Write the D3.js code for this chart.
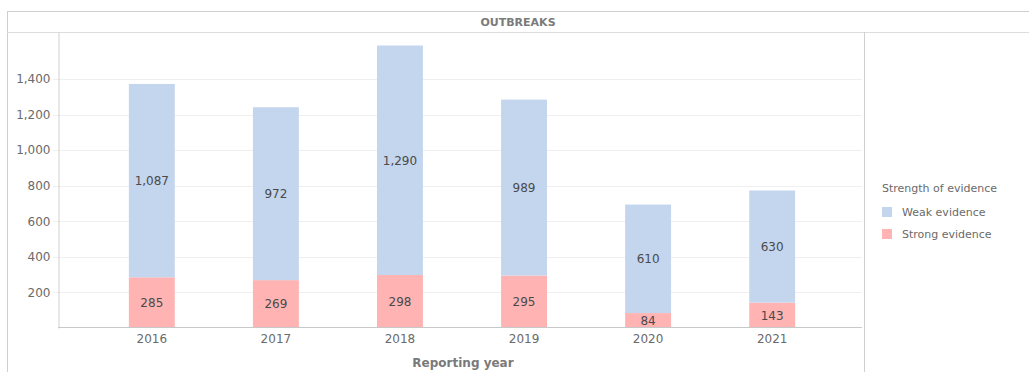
<!DOCTYPE html>
<html>
<head>
<meta charset="utf-8">
<script src="https://cdn.jsdelivr.net/npm/d3@7"></script>
<style>
  html, body { margin: 0; padding: 0; background: #fff; }
  svg { display: block; font-family: "DejaVu Sans", Verdana, sans-serif; }
</style>
</head>
<body>
<svg id="chart" width="1029" height="372"></svg>
<script>
// Outbreaks per reporting year, split by strength of evidence
const years = ["2016", "2017", "2018", "2019", "2020", "2021"];
const strongEvidence = [285, 269, 298, 295, 84, 143];
const weakEvidence = [1087, 972, 1290, 989, 610, 630];
const yTicks = [200, 400, 600, 800, 1000, 1200, 1400];
const seriesNames = ["Weak evidence", "Strong evidence"];
const seriesColors = ["#c4d5ee", "#ffb3b3"];

const svg = d3.select("#chart");
const fmt = d3.format(",");

// frame
const frame = { left: 7, top: 11, right: 1029, titleBottom: 32, split: 864 };
const lineCol = "#cfcfcf";
svg.append("line").attr("x1", frame.left + 0.5).attr("x2", frame.left + 0.5)
  .attr("y1", frame.top).attr("y2", 372).attr("stroke", lineCol);
svg.append("line").attr("x1", frame.left).attr("x2", frame.right)
  .attr("y1", frame.top + 0.5).attr("y2", frame.top + 0.5).attr("stroke", lineCol);
svg.append("line").attr("x1", frame.left).attr("x2", frame.right)
  .attr("y1", frame.titleBottom + 0.5).attr("y2", frame.titleBottom + 0.5).attr("stroke", "#dddddd");
svg.append("line").attr("x1", frame.split + 0.5).attr("x2", frame.split + 0.5)
  .attr("y1", frame.titleBottom).attr("y2", 372).attr("stroke", lineCol);

svg.append("text").attr("x", 518).attr("y", 26).attr("text-anchor", "middle")
  .attr("font-size", 11).attr("font-weight", "bold").attr("fill", "#7a7a7a")
  .text("OUTBREAKS");

// plot area
const plot = { left: 58, right: 862, top: 32, bottom: 328 };

const x = d3.scaleBand().domain(years).range([plot.left + 2, plot.right + 2])
  .paddingInner(0.63).paddingOuter(0.555);
const y = d3.scaleLinear().domain([0, 1664]).range([plot.bottom, plot.top]);

// gridlines
svg.append("g").selectAll("line").data(yTicks).join("line")
  .attr("x1", plot.left - 5).attr("x2", plot.right)
  .attr("y1", d => Math.round(y(d)) + 0.5).attr("y2", d => Math.round(y(d)) + 0.5)
  .attr("stroke", "#efefef");

// y axis
const yAxis = svg.append("g").attr("transform", `translate(${plot.left + 0.5},0)`)
  .call(d3.axisLeft(y).tickValues(yTicks).tickFormat(fmt).tickSize(0).tickPadding(8));
yAxis.select(".domain").attr("stroke", "#d0d0d0");
yAxis.selectAll("text").attr("font-size", 12).attr("fill", "#6a6a6a")
  .attr("font-family", "DejaVu Sans, Verdana, sans-serif");

// stacked bars
const stackData = years.map((yr, i) => ({ year: yr, strong: strongEvidence[i], weak: weakEvidence[i] }));
const stacked = d3.stack().keys(["strong", "weak"])(stackData);
const colorOf = { strong: seriesColors[1], weak: seriesColors[0] };

const layers = svg.append("g").selectAll("g").data(stacked).join("g")
  .attr("fill", d => colorOf[d.key]);
layers.selectAll("rect").data(d => d).join("rect")
  .attr("x", d => x(d.data.year))
  .attr("width", x.bandwidth())
  .attr("y", d => y(d[1]))
  .attr("height", d => y(d[0]) - y(d[1]));

// value labels
const labels = svg.append("g").attr("font-size", 12).attr("fill", "#4a4a4a")
  .attr("text-anchor", "middle");
stacked.forEach(layer => {
  labels.selectAll(null).data(layer).join("text")
    .attr("x", d => x(d.data.year) + x.bandwidth() / 2)
    .attr("y", d => (y(d[0]) + y(d[1])) / 2)
    .attr("dy", "0.36em")
    .text(d => fmt(d[1] - d[0]));
});

// x axis
const xAxis = svg.append("g").attr("transform", `translate(0,${plot.bottom - 0.5})`)
  .call(d3.axisBottom(x).tickSize(0).tickPadding(7));
xAxis.select(".domain").attr("stroke", "#c8c8c8").attr("d", `M${plot.left},0H${plot.right}`);
xAxis.selectAll("text").attr("font-size", 12).attr("fill", "#6a6a6a")
  .attr("font-family", "DejaVu Sans, Verdana, sans-serif");

svg.append("text").attr("x", 463).attr("y", 367).attr("text-anchor", "middle")
  .attr("font-size", 12).attr("font-weight", "bold").attr("fill", "#7a7a7a")
  .text("Reporting year");

// legend
const legend = svg.append("g").attr("transform", "translate(882,0)");
legend.append("text").attr("x", 0).attr("y", 192).attr("font-size", 11).attr("fill", "#6a6a6a")
  .text("Strength of evidence");
const items = legend.selectAll("g.item").data(seriesNames).join("g")
  .attr("class", "item")
  .attr("transform", (d, i) => `translate(0,${212 + i * 22})`);
items.append("rect").attr("x", 0).attr("y", -5).attr("width", 10).attr("height", 10)
  .attr("fill", (d, i) => seriesColors[i]);
items.append("text").attr("x", 20).attr("y", 0).attr("dy", "0.35em")
  .attr("font-size", 11).attr("fill", "#6a6a6a").text(d => d);
</script>
</body>
</html>
